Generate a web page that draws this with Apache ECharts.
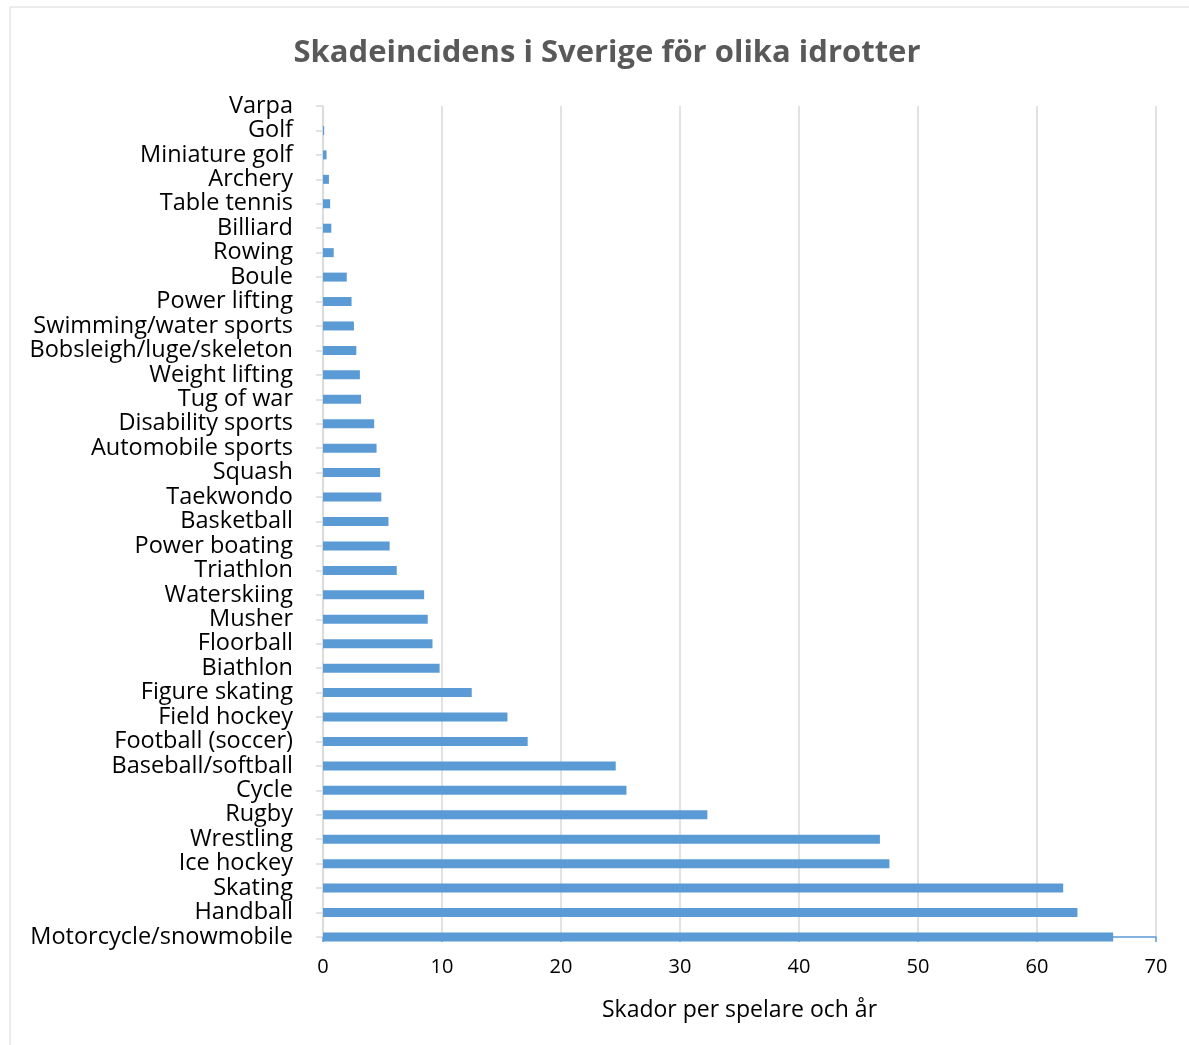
<!DOCTYPE html>
<html>
<head>
<meta charset="utf-8">
<script src="https://cdn.jsdelivr.net/npm/echarts@6/dist/echarts.min.js"></script>
<style>
  html, body { margin: 0; padding: 0; background: #fff; }
  #chart { width: 1189px; height: 1045px; }
</style>
</head>
<body>
<div id="chart"></div>
<script>
// sports, listed top to bottom as in the chart
var sports = [
    'Varpa', 'Golf', 'Miniature golf', 'Archery', 'Table tennis', 'Billiard',
    'Rowing', 'Boule', 'Power lifting', 'Swimming/water sports',
    'Bobsleigh/luge/skeleton', 'Weight lifting', 'Tug of war',
    'Disability sports', 'Automobile sports', 'Squash', 'Taekwondo',
    'Basketball', 'Power boating', 'Triathlon', 'Waterskiing', 'Musher',
    'Floorball', 'Biathlon', 'Figure skating', 'Field hockey',
    'Football (soccer)', 'Baseball/softball', 'Cycle', 'Rugby', 'Wrestling',
    'Ice hockey', 'Skating', 'Handball', 'Motorcycle/snowmobile'
];

// injuries per player and year
var injuries = [
    0, 0.1, 0.3, 0.5, 0.6, 0.7,
    0.9, 2.0, 2.4, 2.6,
    2.8, 3.1, 3.2,
    4.3, 4.5, 4.8, 4.9,
    5.5, 5.6, 6.2, 8.5, 8.8,
    9.2, 9.8, 12.5, 15.5,
    17.2, 24.6, 25.5, 32.3, 46.8,
    47.6, 62.2, 63.4, 66.4
];

var xTicks = { min: 0, max: 70, interval: 10 };

var chartTitle = 'Skadeincidens i Sverige för olika idrotter';
var xAxisName = 'Skador per spelare och år';

var FONT = '"Open Sans", "Noto Sans", sans-serif';

var chart = echarts.init(document.getElementById('chart'), null, { renderer: 'canvas' });

var option = {
    backgroundColor: '#ffffff',
    animation: false,
    graphic: [{
        type: 'rect',
        shape: { x: 10, y: 7, width: 1200, height: 1100 },
        style: { fill: 'none', stroke: '#d9d9d9', lineWidth: 1 },
        silent: true
    }],
    title: {
        text: chartTitle,
        left: 602,
        top: 33,
        textAlign: 'center',
        textStyle: {
            fontFamily: FONT,
            fontSize: 31,
            fontWeight: 'bold',
            color: '#595959'
        }
    },
    grid: {
        left: 323,
        right: 33,
        top: 106,
        bottom: 108,
        containLabel: false
    },
    xAxis: {
        type: 'value',
        min: xTicks.min,
        max: xTicks.max,
        interval: xTicks.interval,
        name: xAxisName,
        nameLocation: 'middle',
        nameGap: 62,
        nameTextStyle: { fontFamily: FONT, fontSize: 23, color: '#000' },
        axisLine: { show: true, lineStyle: { color: '#5b9bd5', width: 1.5 } },
        axisTick: { show: true, length: 5, lineStyle: { color: '#5b9bd5', width: 1.5 } },
        axisLabel: { fontFamily: FONT, fontSize: 20, color: '#000', margin: 20 },
        splitLine: { show: true, lineStyle: { color: '#d9d9d9', width: 1.5 } }
    },
    yAxis: {
        type: 'category',
        data: sports,
        inverse: true,
        boundaryGap: false,
        axisLine: { show: true, lineStyle: { color: '#d9d9d9', width: 1.5 } },
        axisTick: { show: true, length: 7, lineStyle: { color: '#d9d9d9', width: 1.5 } },
        axisLabel: { interval: 0, fontFamily: FONT, fontSize: 23.5, color: '#000', margin: 30 },
        splitLine: { show: false }
    },
    series: [{
        type: 'bar',
        data: injuries,
        barWidth: 9,
        clip: false,
        itemStyle: { color: '#5b9bd5' }
    }]
};

chart.setOption(option);
</script>
</body>
</html>
